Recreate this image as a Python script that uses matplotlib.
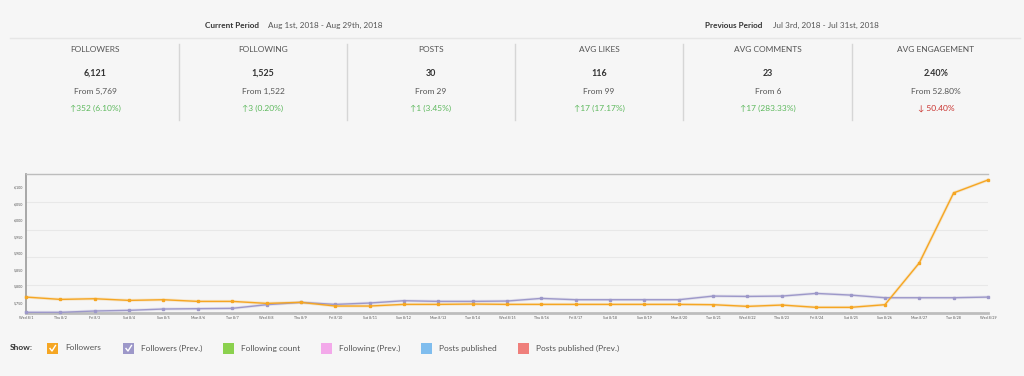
import numpy as np
import matplotlib.pyplot as plt
from matplotlib.patches import Rectangle

plt.rcParams['font.family'] = ['Lato', 'DejaVu Sans']

# summary cards
card_titles = ['FOLLOWERS', 'FOLLOWING', 'POSTS', 'AVG LIKES', 'AVG COMMENTS', 'AVG ENGAGEMENT']
card_values = ['6,121', '1,525', '30', '116', '23', '2.40%']
card_from = ['From 5,769', 'From 1,522', 'From 29', 'From 99', 'From 6', 'From 52.80%']
card_change = ['↑352 (6.10%)', '↑3 (0.20%)', '↑1 (3.45%)', '↑17 (17.17%)', '↑17 (283.33%)', '↓ 50.40%']
card_up = [True, True, True, True, True, False]

# daily series
days = ['Wed 8/1', 'Thu 8/2', 'Fri 8/3', 'Sat 8/4', 'Sun 8/5', 'Mon 8/6', 'Tue 8/7',
        'Wed 8/8', 'Thu 8/9', 'Fri 8/10', 'Sat 8/11', 'Sun 8/12', 'Mon 8/13', 'Tue 8/14',
        'Wed 8/15', 'Thu 8/16', 'Fri 8/17', 'Sat 8/18', 'Sun 8/19', 'Mon 8/20', 'Tue 8/21',
        'Wed 8/22', 'Thu 8/23', 'Fri 8/24', 'Sat 8/25', 'Sun 8/26', 'Mon 8/27', 'Tue 8/28',
        'Wed 8/29']
followers = [5768, 5761, 5763, 5758, 5760, 5755, 5755, 5749, 5752, 5741, 5741, 5746, 5746,
             5747, 5746, 5746, 5746, 5746, 5746, 5746, 5745, 5740, 5744, 5737, 5737, 5745,
             5871, 6082, 6121]
followers_prev = [5722, 5722, 5726, 5728, 5732, 5733, 5734, 5745, 5752, 5746, 5750, 5757,
                  5755, 5755, 5756, 5764, 5760, 5760, 5760, 5760, 5771, 5770, 5771, 5779,
                  5774, 5766, 5766, 5766, 5768]
y_ticks = [5750, 5800, 5850, 5900, 5950, 6000, 6050, 6100]

legend_labels = ['Followers', 'Followers (Prev.)', 'Following count', 'Following (Prev.)',
                 'Posts published', 'Posts published (Prev.)']
legend_colors = ['#f5a623', '#9d98c9', '#8bd14e', '#f3a9ea', '#7fbdee', '#ef7f7b']
legend_checked = [True, True, False, False, False, False]

W, H = 1024, 376
fig = plt.figure(figsize=(W / 100, H / 100), dpi=100)
fig.patch.set_facecolor('#f6f6f6')


def fx(x):
    return x / W


def fy(y):
    return 1 - y / H


def ftext(x, y, s, **kw):
    kw.setdefault('va', 'center')
    kw.setdefault('color', '#555555')
    fig.text(fx(x), fy(y), s, **kw)


# header
ftext(205, 25, 'Current Period', fontsize=5.9, fontweight='bold', color='#333333')
ftext(268, 25, 'Aug 1st, 2018 - Aug 29th, 2018', fontsize=5.9)
ftext(705, 25, 'Previous Period', fontsize=5.9, fontweight='bold', color='#333333')
ftext(773, 25, 'Jul 3rd, 2018 - Jul 31st, 2018', fontsize=5.9)
fig.add_artist(plt.Line2D([fx(10), fx(1020)], [fy(38), fy(38)], color='#e6e6e6', lw=1))

centers = [95, 263, 431, 599, 768, 936]
for sep in [179, 347, 515, 683, 852]:
    fig.add_artist(plt.Line2D([fx(sep), fx(sep)], [fy(44), fy(120)], color='#d6d6d6', lw=1))
for i, cx in enumerate(centers):
    ftext(cx, 49, card_titles[i], fontsize=6.0, ha='center')
    ftext(cx, 73, card_values[i], fontsize=6.4, ha='center', fontweight='bold', color='#333333')
    ftext(cx, 91, card_from[i], fontsize=6.0, ha='center')
    ftext(cx, 108, card_change[i], fontsize=6.0, ha='center',
          color='#5cb85c' if card_up[i] else '#c9302c')

# chart
ax = fig.add_axes([fx(26), fy(313), fx(988 - 26), (313 - 174) / H])
ax.set_facecolor('#f6f6f6')
x = np.arange(len(days))
ylo, yhi = 5720, 6139
ax.set_xlim(0, len(days) - 1)
ax.set_ylim(ylo, yhi)
for g in np.linspace(ylo, yhi, 6)[1:-1]:
    ax.axhline(g, color='#e8e8e8', lw=0.8, zorder=0)

ax.plot(x, followers_prev, color='#9d98c9', lw=2.2, alpha=0.2, zorder=2, clip_on=False)
ax.plot(x, followers_prev, color='#9d98c9', lw=1.0, marker='s', ms=2, zorder=3, clip_on=False)
ax.plot(x, followers, color='#f5a623', lw=2.2, alpha=0.2, zorder=2, clip_on=False)
ax.plot(x, followers, color='#f5a623', lw=1.0, marker='s', ms=2, zorder=4, clip_on=False)

ax.set_xticks(x)
ax.set_xticklabels(days, fontsize=2.6, color='#555555')
ax.set_yticks(y_ticks)
ax.set_yticklabels([f'{v:,}' for v in y_ticks], fontsize=2.6, color='#555555')
ax.tick_params(length=0, pad=2)
ax.spines['right'].set_visible(False)
ax.spines['top'].set_color('#bdbdbd')
ax.spines['top'].set_linewidth(1)
ax.spines['left'].set_color('#9a9a9a')
ax.spines['left'].set_linewidth(1.2)
ax.spines['bottom'].set_color('#bdbdbd')
ax.spines['bottom'].set_linewidth(2)

# legend
ftext(10, 348, 'Show:', fontsize=6.0, fontweight='bold', color='#333333')
box_x = [47, 123, 223, 321, 421, 518]
for bx, lab, col, chk in zip(box_x, legend_labels, legend_colors, legend_checked):
    fig.add_artist(Rectangle((fx(bx), fy(354)), fx(11), 11 / H, color=col, lw=0))
    if chk:
        fig.add_artist(plt.Line2D([fx(bx + 3), fx(bx + 5), fx(bx + 8.5)],
                                  [fy(348.5), fy(351), fy(345.5)], color='white', lw=1))
    ftext(bx + 18, 348, lab, fontsize=6.0)

fig.savefig('out.png', dpi=100, facecolor=fig.get_facecolor())
